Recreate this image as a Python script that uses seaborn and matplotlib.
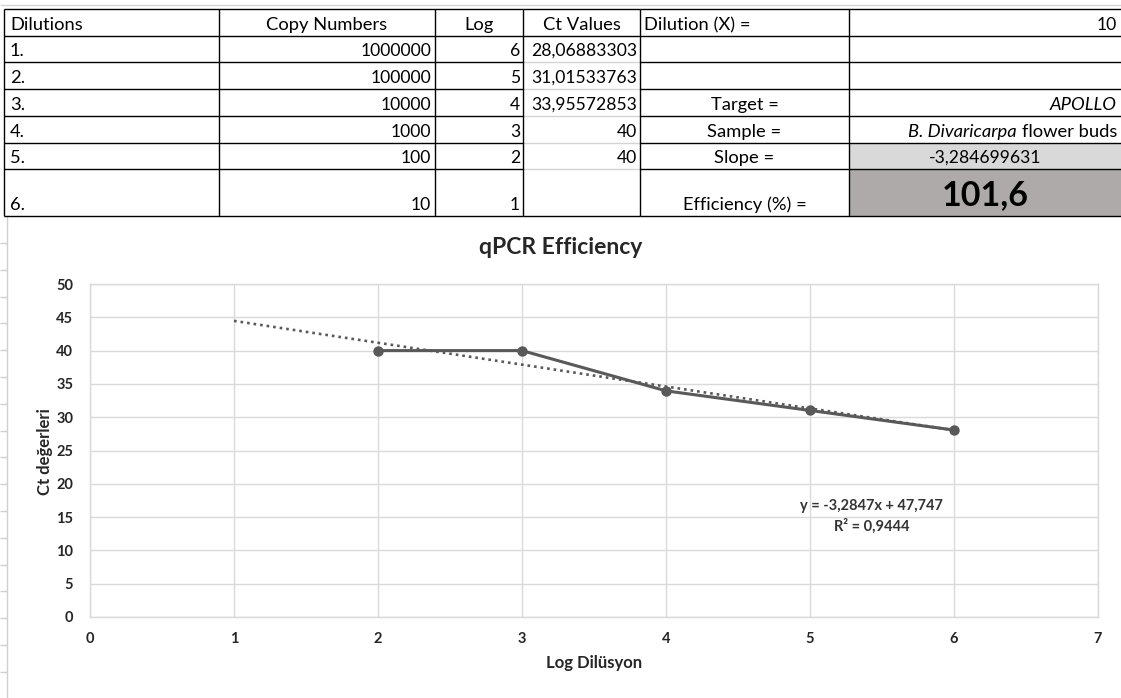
import numpy as np
import matplotlib
matplotlib.use("Agg")
import matplotlib.pyplot as plt
from matplotlib.patches import Rectangle
import seaborn as sns

# ---- standard-curve data -------------------------------------------------
dilutions = ["1.", "2.", "3.", "4.", "5.", "6."]
copy_numbers = [1000000, 100000, 10000, 1000, 100, 10]
log_values = [6, 5, 4, 3, 2, 1]
ct_values = [28.06883303, 31.01533763, 33.95572853, 40, 40, None]
dilution_factor = 10
target_name = "APOLLO"
sample_species = "B. Divaricarpa"
sample_tissue = "flower buds"

x_ticks = [0, 1, 2, 3, 4, 5, 6, 7]
y_ticks = [0, 5, 10, 15, 20, 25, 30, 35, 40, 45, 50]


def comma(v, nd):
    return f"{v:.{nd}f}".replace(".", ",")


def fmt_ct(v):
    if v is None:
        return ""
    if float(v).is_integer():
        return str(int(v))
    return comma(v, 8)


# points that have a Ct value
pts_x = np.array([lv for lv, c in zip(log_values, ct_values) if c is not None], float)
pts_y = np.array([c for c in ct_values if c is not None], float)

slope, intercept = np.polyfit(pts_x, pts_y, 1)
pred = np.polyval([slope, intercept], pts_x)
r2 = 1 - np.sum((pts_y - pred) ** 2) / np.sum((pts_y - pts_y.mean()) ** 2)
efficiency = (dilution_factor ** (-1.0 / slope) - 1) * 100

# ---- figure ----------------------------------------------------------------
sns.set_theme(style="white")
plt.rcParams["font.family"] = ["Lato", "DejaVu Sans"]

W, H = 1121, 698
fig = plt.figure(figsize=(W / 100, H / 100), dpi=100)
fig.patch.set_facecolor("white")

bg = fig.add_axes([0, 0, 1, 1])
bg.set_xlim(0, W)
bg.set_ylim(H, 0)
bg.axis("off")

TXT = "#000000"
FS = 13.2      # words
FN = 12.6      # numbers
cols = [4, 219, 435, 523, 640, 849, 1121]
rows = [9, 36, 62, 89, 116, 143, 169, 216]

# cell fills
bg.add_patch(Rectangle((cols[5], rows[5]), cols[6] - cols[5], rows[6] - rows[5],
                       facecolor="#d9d9d9", edgecolor="none", zorder=1))
bg.add_patch(Rectangle((cols[5], rows[6]), cols[6] - cols[5], rows[7] - rows[6],
                       facecolor="#aeaaaa", edgecolor="none", zorder=1))

# worksheet gridlines outside the table
bg.hlines(5, 0, W, color="#d4d4d4", lw=1, zorder=1)
bg.vlines(7, rows[-1], H, color="#d0d0d0", lw=1, zorder=1)
for yy in np.arange(rows[-1] + 27, H, 26.8):
    bg.hlines(yy, 0, 7, color="#d0d0d0", lw=1, zorder=1)

# table borders
for i, yy in enumerate(rows):
    bg.hlines(yy, cols[0], cols[3], color="black", lw=1, zorder=2)
    bg.hlines(yy, cols[4], cols[6], color="black", lw=1, zorder=2)
    ct_col = "black" if i in (0, 1, len(rows) - 1) else "#d4d4d4"
    bg.hlines(yy, cols[3], cols[4], color=ct_col, lw=1, zorder=2)
for xx in cols[:-1]:
    bg.vlines(xx, rows[0], rows[-1], color="black", lw=1, zorder=2)

# header row
base = rows[1] - 6
bg.text(cols[0] + 6, base, "Dilutions", ha="left", va="baseline", fontsize=FS, color=TXT)
bg.text((cols[1] + cols[2]) / 2, base, "Copy Numbers", ha="center", va="baseline", fontsize=FS, color=TXT)
bg.text((cols[2] + cols[3]) / 2, base, "Log", ha="center", va="baseline", fontsize=FS, color=TXT)
bg.text((cols[3] + cols[4]) / 2, base, "Ct Values", ha="center", va="baseline", fontsize=FS, color=TXT)
bg.text(cols[4] + 4, base, "Dilution (X) =", ha="left", va="baseline", fontsize=FS, color=TXT)
bg.text(cols[6] - 4, base, str(dilution_factor), ha="right", va="baseline", fontsize=FN, color=TXT)

# data rows
for i in range(len(dilutions)):
    b = rows[i + 2] - 6
    bg.text(cols[0] + 6, b, dilutions[i], ha="left", va="baseline", fontsize=FS, color=TXT)
    bg.text(cols[2] - 4, b, str(copy_numbers[i]), ha="right", va="baseline", fontsize=FN, color=TXT)
    bg.text(cols[3] - 3, b, str(log_values[i]), ha="right", va="baseline", fontsize=FN, color=TXT)
    bg.text(cols[4] - 3, b, fmt_ct(ct_values[i]), ha="right", va="baseline", fontsize=FN, color=TXT)

mid4 = (cols[4] + cols[5]) / 2
mid5 = (cols[5] + cols[6]) / 2
bg.text(mid4, rows[4] - 6, "Target =", ha="center", va="baseline", fontsize=FS, color=TXT)
bg.text(cols[6] - 4, rows[4] - 6, target_name, ha="right", va="baseline", fontsize=FS,
        color=TXT, style="italic")
bg.text(mid4, rows[5] - 6, "Sample =", ha="center", va="baseline", fontsize=FS, color=TXT)
t_tissue = bg.text(cols[6] - 4, rows[5] - 6, sample_tissue, ha="right", va="baseline",
                   fontsize=FS, color=TXT)
renderer = fig.canvas.get_renderer()
x_left = t_tissue.get_window_extent(renderer).x0
bg.text(x_left - 5, rows[5] - 6, sample_species, ha="right", va="baseline", fontsize=FS,
        color=TXT, style="italic")
bg.text(mid4, rows[6] - 6, "Slope =", ha="center", va="baseline", fontsize=FS, color=TXT)
bg.text(mid5, rows[6] - 6, comma(slope, 9), ha="center", va="baseline", fontsize=FN, color=TXT)
bg.text(mid4, rows[7] - 6, "Efficiency (%) =", ha="center", va="baseline", fontsize=FS, color=TXT)
bg.text(mid5, rows[7] - 11, comma(efficiency, 1), ha="center", va="baseline", fontsize=24.5,
        color=TXT, fontweight="bold")

# ---- chart -----------------------------------------------------------------
L, R, T, B = 90, 1098, 284, 617
ax = fig.add_axes([L / W, 1 - B / H, (R - L) / W, (B - T) / H])
ax.set_facecolor("white")

GRAY = "#595959"
ax.set_xlim(x_ticks[0], x_ticks[-1])
ax.set_ylim(y_ticks[0], y_ticks[-1])
ax.set_xticks(x_ticks)
ax.set_yticks(y_ticks)
ax.grid(True, color="#d9d9d9", lw=1)
ax.set_axisbelow(True)
for s in ax.spines.values():
    s.set_color("#d9d9d9")
    s.set_linewidth(1)

sns.lineplot(x=pts_x, y=pts_y, ax=ax, color=GRAY, linewidth=2.2, marker="o",
             markersize=7.5, markeredgewidth=0, zorder=3)

trend_x = np.array([log_values[-1], log_values[0]], float)
ax.plot(trend_x, np.polyval([slope, intercept], trend_x), color=GRAY, lw=1.9,
        ls=(0, (1, 1.5)), zorder=4)

ax.tick_params(axis="both", length=0, labelsize=10.5, labelcolor="#262626")
ax.tick_params(axis="y", pad=12)
ax.tick_params(axis="x", pad=11)
for lab in ax.get_xticklabels() + ax.get_yticklabels():
    lab.set_fontweight("bold")
ax.set_xlabel("")
ax.set_ylabel("")

ax.text(5.43, 16.7, f"y = {comma(slope, 4)}x + {comma(intercept, 3)}", ha="center",
        va="center", fontsize=10.5, fontweight="bold", color="#333333")
ax.text(5.43, 13.6, f"R² = {comma(r2, 4)}", ha="center", va="center", fontsize=10.5,
        fontweight="bold", color="#333333")

fig.text(561 / W, 1 - 247 / H, "qPCR Efficiency", ha="center", va="center",
         fontsize=16.5, fontweight="bold", color="#262626")
fig.text(594 / W, 1 - 663 / H, "Log Dilüsyon", ha="center", va="center",
         fontsize=12, fontweight="bold", color="#262626")
fig.text(45 / W, 1 - 452 / H, "Ct değerleri", ha="center", va="center", rotation=90,
         fontsize=12, fontweight="bold", color="#262626")

fig.savefig("out.png", dpi=100, facecolor="white")
